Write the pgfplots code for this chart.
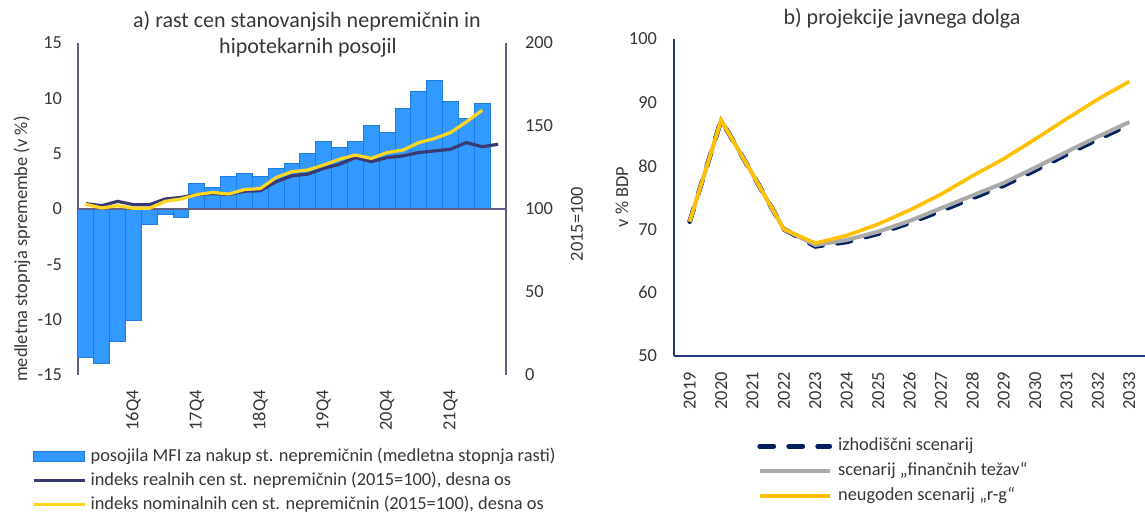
\documentclass[border=0pt]{standalone}
\usepackage{fontspec}
\setmainfont{Carlito}
\usepackage{pgfplots}
\usepackage{pgfplotstable}
\pgfplotsset{compat=1.18}

\definecolor{barblue}{RGB}{51,153,255}
\definecolor{baredge}{RGB}{30,125,225}
\definecolor{realc}{RGB}{58,58,115}
\definecolor{nomc}{RGB}{255,214,30}
\definecolor{axisL}{RGB}{95,95,135}
\definecolor{axisR}{RGB}{32,58,125}
\definecolor{basec}{RGB}{0,32,96}
\definecolor{greyc}{RGB}{170,170,170}
\definecolor{rgc}{RGB}{255,192,0}
\definecolor{txt}{RGB}{55,55,55}

% a) loans growth (left axis), quarters 16Q1..22Q2 = 0..25
\pgfplotstableread{
x v
0 -13.4
1 -14.0
2 -12.0
3 -10.1
4 -1.4
5 -0.5
6 -0.8
7 2.3
8 1.9
9 2.9
10 3.2
11 2.9
12 3.7
13 4.1
14 5.0
15 6.1
16 5.6
17 6.1
18 7.5
19 6.9
20 9.1
21 10.6
22 11.6
23 9.7
24 8.2
25 9.5
}\loans

% real price index (right axis, 2015=100)
\pgfplotstableread{
x v
0 103.2
1 102.0
2 104.6
3 102.6
4 102.6
5 106.0
6 107.0
7 108.7
8 109.3
9 108.7
10 110.7
11 111.0
12 116.5
13 120.0
14 121.0
15 124.5
16 127.0
17 131.0
18 128.5
19 131.0
20 132.0
21 134.0
22 135.0
23 136.0
24 140.0
25 137.5
26 139.0
}\real

% nominal price index (right axis, 2015=100)
\pgfplotstableread{
x v
0 102.8
1 100.6
2 102.0
3 100.4
4 100.4
5 104.6
6 106.0
7 108.7
8 110.0
9 109.0
10 111.7
11 112.3
12 119.0
13 122.5
14 123.5
15 126.5
16 130.0
17 132.5
18 130.5
19 134.0
20 135.5
21 140.0
22 142.5
23 146.0
24 152.5
25 159.5
}\nominal

% b) debt projections, % of GDP
\pgfplotstableread{
y base fin rg
2019 71.2 71.2 71.2
2020 87.2 87.2 87.2
2021 78.7 78.7 78.7
2022 70.0 70.0 70.0
2023 67.3 67.5 67.8
2024 68.0 68.3 69.0
2025 69.3 69.6 70.8
2026 71.0 71.3 73.0
2027 72.9 73.3 75.5
2028 74.9 75.3 78.4
2029 76.9 77.3 81.1
2030 79.3 79.7 84.2
2031 81.8 82.2 87.4
2032 84.2 84.6 90.5
2033 86.5 86.9 93.3
}\debt

\newcommand\tickfont{\fontsize{9.2}{10.5}\selectfont}
\newcommand\legfont{\fontsize{9.2}{10.5}\selectfont}
\newcommand\titfont{\fontsize{11}{13}\selectfont}

\pgfplotsset{
  every axis/.append style={
    scale only axis,
    /pgf/number format/assume math mode=true,
    /pgf/number format/1000 sep={},
    tick label style={font=\tickfont, text=txt},
    major tick length=0pt,
  },
}

\begin{document}
\begin{tikzpicture}
\path[use as bounding box] (0pt,0pt) rectangle (572.5pt,-256pt);

% ---- a) bars, left axis
\begin{axis}[
  at={(39pt,-187.5pt)}, anchor=south west,
  width=214pt, height=166pt,
  xmin=-0.5, xmax=26.5, ymin=-15, ymax=15,
  axis x line*=bottom, axis y line*=left,
  x axis line style={draw=none},
  y axis line style={draw=axisL, line width=0.9pt},
  xtick={3,7,11,15,19,23},
  xticklabels={16Q4,17Q4,18Q4,19Q4,20Q4,21Q4},
  x tick label style={yshift=-4pt, rotate=90, anchor=east},
  ytick={-15,-10,...,15},
  yticklabel style={xshift=-4.5pt},
  ybar, bar width=7.926pt,
]
\addplot[fill=barblue, draw=baredge, line width=0.5pt] table[x=x, y=v] {\loans};
\draw[axisL, line width=0.9pt] (axis cs:-0.5,0) -- (axis cs:26.5,0);
\end{axis}

% ---- a) price indices, right axis
\begin{axis}[
  at={(39pt,-187.5pt)}, anchor=south west,
  width=214pt, height=166pt,
  xmin=-0.5, xmax=26.5, ymin=0, ymax=200,
  axis x line=none, axis y line*=right,
  y axis line style={draw=axisL, line width=0.9pt},
  ytick={0,50,...,200},
  yticklabel style={anchor=west, xshift=6pt},
  legend style={draw=none, fill=none, inner sep=0pt,
    at={(axis description cs:-0.1075,-0.218)}, anchor=north west,
    font=\legfont, text=txt, row sep=3pt,
    nodes={inner xsep=2pt, inner ysep=0pt, text height=6.8pt, text depth=2.2pt}},
  legend cell align=left,
  legend image code/.code={\draw[#1] (0pt,0pt) -- (25.5pt,0pt);},
]
\addlegendimage{legend image code/.code={\draw[fill=barblue, draw=baredge, line width=0.5pt] (0pt,-2.6pt) rectangle (25.5pt,2.6pt);}}
\addlegendentry{posojila MFI za nakup st. nepremičnin (medletna stopnja rasti)}
\addplot[realc, line width=1.6pt] table[x=x, y=v] {\real};
\addlegendentry{indeks realnih cen st. nepremičnin (2015=100), desna os}
\addplot[nomc, line width=1.6pt] table[x=x, y=v] {\nominal};
\addlegendentry{indeks nominalnih cen st. nepremičnin (2015=100), desna os}
\end{axis}

% ---- b) debt projections
\begin{axis}[
  at={(337pt,-178pt)}, anchor=south west,
  width=235.5pt, height=158.5pt,
  xmin=2018.5, xmax=2033.5, ymin=50, ymax=100,
  axis x line*=bottom, axis y line*=left,
  axis line style={draw=axisR, line width=1pt},
  xtick={2019,2020,...,2033},
  x tick label style={yshift=-4.5pt, rotate=90, anchor=east},
  ytick={50,60,...,100},
  yticklabel style={xshift=-5pt},
  legend style={draw=none, fill=none, inner sep=0pt,
    at={(axis description cs:0.176,-0.255)}, anchor=north west,
    font=\legfont, text=txt, row sep=3.5pt,
    nodes={inner xsep=3pt, inner ysep=0pt, text height=6.8pt, text depth=2.2pt}},
  legend cell align=left,
  legend image code/.code={\draw[#1] (0pt,0pt) -- (35pt,0pt);},
]
\addplot[basec, line width=2.4pt, line cap=round, dash pattern=on 7pt off 7.5pt] table[x=y, y=base] {\debt};
\addlegendentry{izhodiščni scenarij}
\addplot[greyc, line width=2pt] table[x=y, y=fin] {\debt};
\addlegendentry{scenarij „finančnih težav“}
\addplot[rgc, line width=1.8pt] table[x=y, y=rg] {\debt};
\addlegendentry{neugoden scenarij „r-g“}
\end{axis}

% titles and axis labels
\node[font=\titfont, text=txt] at (153.5pt,-10.5pt) {a) rast cen stanovanjsih nepremičnin in};
\node[font=\titfont, text=txt] at (154pt,-24pt) {hipotekarnih posojil};
\node[font=\titfont, text=txt] at (451pt,-9pt) {b) projekcije javnega dolga};
\node[font=\tickfont, text=txt, rotate=90] at (11pt,-124.5pt) {medletna stopnja spremembe (v \%)};
\node[font=\tickfont, text=txt, rotate=90] at (288.5pt,-112pt) {2015=100};
\node[font=\tickfont, text=txt, rotate=90] at (311pt,-98.5pt) {v \% BDP};
\end{tikzpicture}
\end{document}
